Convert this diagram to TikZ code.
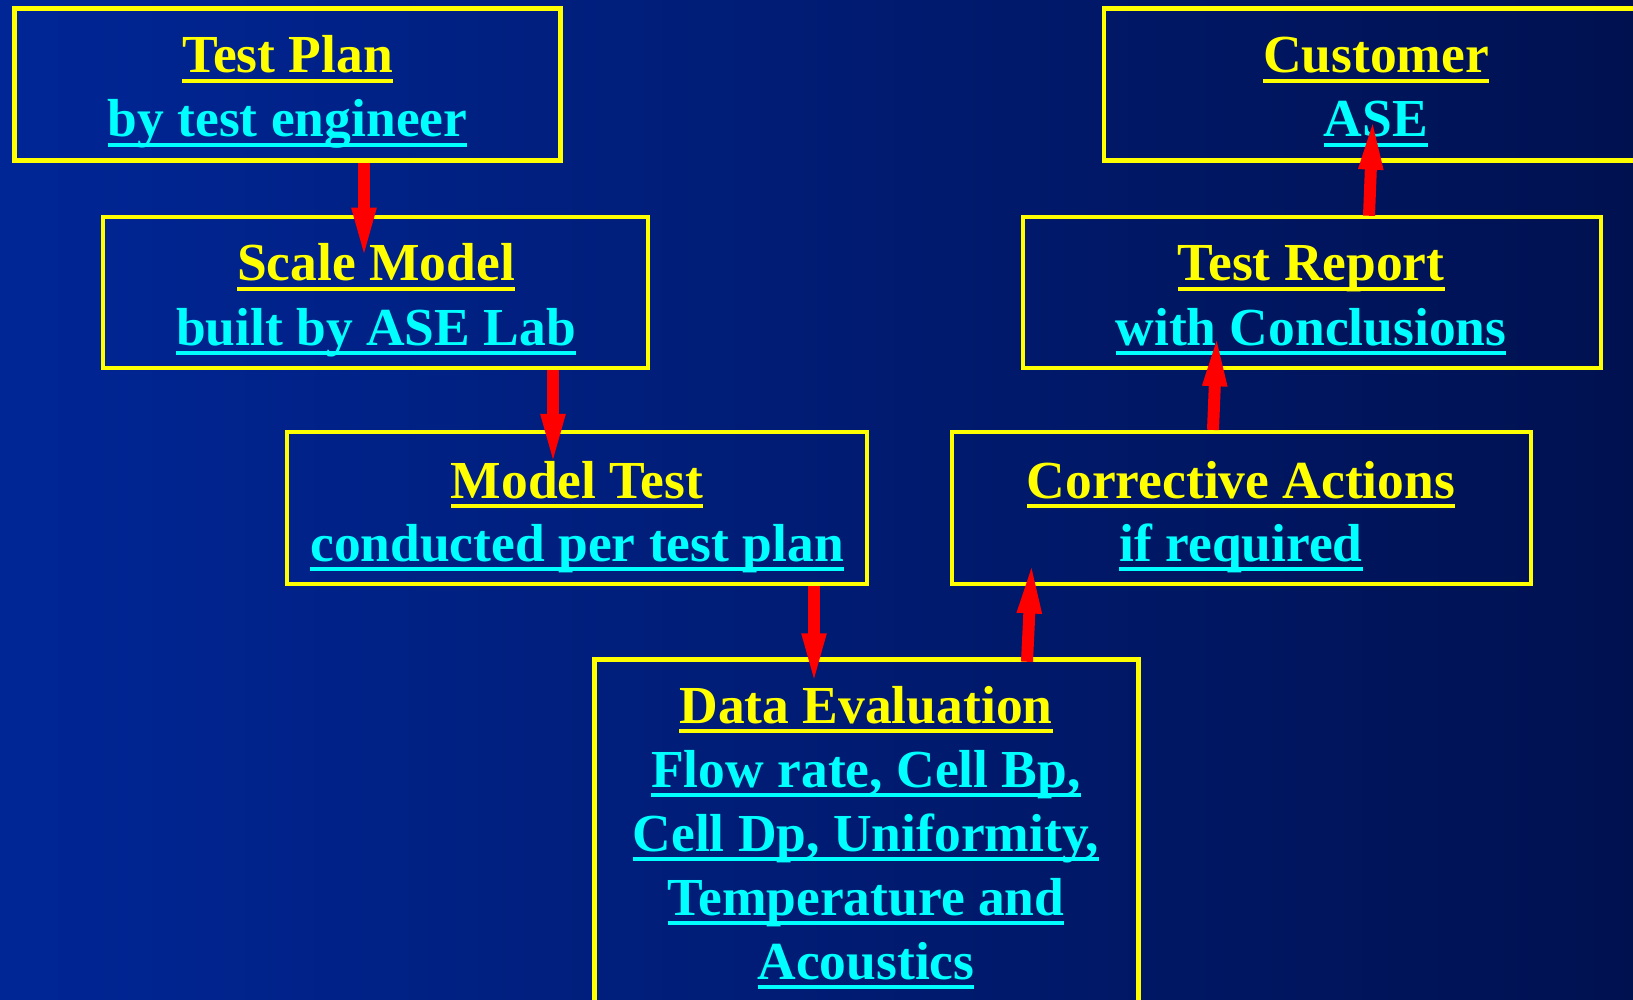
\documentclass[tikz,border=0pt]{standalone}
\usepackage{fontspec}
\setmainfont{Liberation Serif}
\usetikzlibrary{arrows.meta}
\definecolor{bgleft}{RGB}{0,38,150}
\definecolor{bgright}{RGB}{0,17,80}
\definecolor{yel}{RGB}{255,255,0}
\definecolor{cya}{RGB}{0,255,255}
\definecolor{arred}{RGB}{255,0,0}
\newcommand\myul[1]{\setbox0=\hbox{#1}\rlap{\rule[-10pt]{\wd0}{4pt}}\box0}
\tikzset{
  boxnode/.style={draw=yel, line width=4.5pt, inner sep=0pt, rectangle},
  headline/.style={anchor=base, inner sep=0pt, text=yel, font=\fontsize{53.5}{64}\selectfont\bfseries},
  subline/.style={anchor=base, inner sep=0pt, text=cya, font=\fontsize{53.5}{64}\selectfont\bfseries},
  flowarrow/.style={draw=arred, line width=12pt, -{Triangle[length=56pt, width=21pt]}}
}
\begin{document}
\begin{tikzpicture}[x=1pt, y=-1pt]
\useasboundingbox (0,0) rectangle (1633,1000);
\clip (0,0) rectangle (1633,1000);
\shade[left color=bgleft, right color=bgright] (0,0) rectangle (1633,1000);

% boxes
\node[boxnode, minimum width=545.7pt, minimum height=152pt] (tp) at (287.5,84.4) {};
\node[boxnode, minimum width=544pt, minimum height=152pt] (cu) at (1376,84.4) {};
\node[boxnode, minimum width=545pt, minimum height=151pt] (sm) at (375.5,292.5) {};
\node[boxnode, minimum width=578pt, minimum height=151pt] (tr) at (1312,292.5) {};
\node[boxnode, minimum width=580pt, minimum height=152pt] (mt) at (577,508.2) {};
\node[boxnode, minimum width=579pt, minimum height=152pt] (ca) at (1241.5,508.2) {};
\node[boxnode, minimum width=544pt, minimum height=380pt] (de) at (866.5,849.5) {};

% texts
\node[headline] (tpa) at (287.5,73) {\myul{Test Plan}};
\node[subline]  (tpb) at (287.5,137) {\myul{by test engineer}};
\node[headline] (cua) at (1376,73) {\myul{Customer}};
\node[subline]  (cub) at (1376,137) {\myul{ASE}};
\node[headline] (sma) at (376,281) {\myul{Scale Model}};
\node[subline]  (smb) at (376,345) {\myul{built by ASE Lab}};
\node[headline] (tra) at (1311,281) {\myul{Test Report}};
\node[subline]  (trb) at (1311,345) {\myul{with Conclusions}};
\node[headline] (mta) at (577,498) {\myul{Model Test}};
\node[subline]  (mtb) at (577,561) {\myul{conducted per test plan}};
\node[headline] (caa) at (1241,498) {\myul{Corrective Actions}};
\node[subline]  (cab) at (1241,561) {\myul{if required}};
\node[headline] (dea) at (866,723) {\myul{Data Evaluation}};
\node[subline]  (deb) at (866,787) {\myul{Flow rate, Cell Bp,}};
\node[subline]  (dec) at (866,851) {\myul{Cell Dp, Uniformity,}};
\node[subline]  (ded) at (866,915) {\myul{Temperature and}};
\node[subline]  (dee) at (866,979) {\myul{Acoustics}};

% arrows
\draw[flowarrow] ([xshift=76.5pt]tp.south) -- ([xshift=-11.5pt,yshift=-49pt]sm.north);
\draw[flowarrow] ([xshift=177.5pt]sm.south) -- ([xshift=-24pt,yshift=-40pt]mt.north);
\draw[flowarrow] ([xshift=237pt]mt.south) -- ([xshift=-52.5pt,yshift=-32pt]de.north);
\draw[flowarrow] ([xshift=160.5pt,yshift=-4.5pt]de.north) -- ([xshift=-209.5pt,yshift=29pt]ca.south);
\draw[flowarrow] ([xshift=-28.5pt]ca.north) -- ([xshift=-95pt,yshift=40pt]tr.south);
\draw[flowarrow] ([xshift=57pt,yshift=-1pt]tr.north) -- ([xshift=-3pt,yshift=49pt]cu.south);
\end{tikzpicture}
\end{document}
